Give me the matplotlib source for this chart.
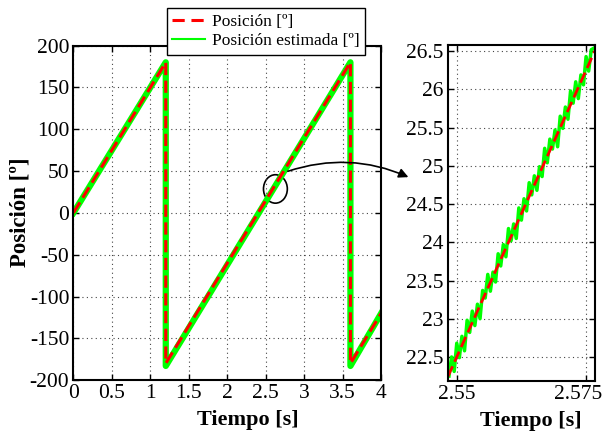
import numpy as np
import matplotlib
matplotlib.use("Agg")
import matplotlib.pyplot as plt
import matplotlib.transforms as mtransforms
from matplotlib.patches import Ellipse
from matplotlib.lines import Line2D

# full run: sawtooth vertices (s, deg)
t_pos = [0.0, 1.2, 1.2, 3.6, 3.6, 4.0]
pos = [0.0, 180.0, -180.0, 180.0, -180.0, -120.0]
t_est = [0.0, 1.2, 1.2, 3.6, 3.6, 4.0]
pos_est = [0.0, 180.0, -183.0, 180.0, -183.0, -120.0]

# zoom window
t_zoom = [2.5483, 2.5767]
pos_zoom = [22.245, 26.505]
t_zoom_est = [2.5485, 2.5490, 2.5495, 2.5500, 2.5505, 2.5510, 2.5515, 2.5520,
              2.5525, 2.5530, 2.5535, 2.5540, 2.5545, 2.5550, 2.5555, 2.5560,
              2.5565, 2.5570, 2.5575, 2.5580, 2.5585, 2.5590, 2.5595, 2.5600,
              2.5605, 2.5610, 2.5615, 2.5620, 2.5625, 2.5630, 2.5635, 2.5640,
              2.5645, 2.5650, 2.5655, 2.5660, 2.5665, 2.5670, 2.5675, 2.5680,
              2.5685, 2.5690, 2.5695, 2.5700, 2.5705, 2.5710, 2.5715, 2.5720,
              2.5725, 2.5730, 2.5735, 2.5740, 2.5745, 2.5750, 2.5755, 2.5760,
              2.5765]
pos_zoom_est = [22.25, 22.50, 22.31, 22.68, 22.49, 22.77, 22.58, 22.98,
                22.82, 23.10, 22.91, 23.19, 23.00, 23.37, 23.27, 23.58,
                23.36, 23.61, 23.48, 23.85, 23.69, 23.97, 23.81, 24.18,
                24.02, 24.24, 24.05, 24.45, 24.29, 24.57, 24.41, 24.78,
                24.62, 24.87, 24.68, 24.99, 24.86, 25.23, 25.04, 25.35,
                25.22, 25.47, 25.25, 25.65, 25.49, 25.77, 25.61, 25.98,
                25.82, 26.10, 25.88, 26.19, 26.06, 26.43, 26.24, 26.52,
                26.54]

plt.rcParams['font.family'] = 'serif'
plt.rcParams['font.serif'] = ['Liberation Serif']
plt.rcParams['axes.unicode_minus'] = False
plt.rcParams['xtick.direction'] = 'in'
plt.rcParams['ytick.direction'] = 'in'
plt.rcParams['xtick.top'] = True
plt.rcParams['ytick.right'] = True

red = '#ff0000'
green = '#00ff00'

fig = plt.figure(figsize=(6.07, 4.38), dpi=100)
ax1 = fig.add_axes([0.121, 0.132, 0.507, 0.764])
ax2 = fig.add_axes([0.738, 0.131, 0.242, 0.766])

for ax in (ax1, ax2):
    ax.grid(True, linestyle=(0, (1, 3)), color='#444444', linewidth=0.8)
    ax.tick_params(labelsize=15.5, length=4, width=1, pad=3)
    for s in ax.spines.values():
        s.set_linewidth(1.5)

ax1.plot(t_est, pos_est, color=green, lw=4.5)
ax1.plot(t_pos, pos, color=red, lw=2.2, dashes=(4, 1.8))
ax1.set_xlim(0, 4)
ax1.set_ylim(-200, 200)
ax1.set_xticks([0, 0.5, 1, 1.5, 2, 2.5, 3, 3.5, 4])
ax1.set_xticklabels(['0', '0.5', '1', '1.5', '2', '2.5', '3', '3.5', '4'])
ax1.set_yticks(range(-200, 201, 50))
ax1.set_xlabel('Tiempo [s]', fontsize=16, fontweight='bold')
ax1.set_ylabel('Posición [º]', fontsize=16.5, fontweight='bold')
ax1.xaxis.set_label_coords(0.568, -0.09)
ax1.yaxis.set_label_coords(-0.14, 0.503)

ax2.plot(t_zoom_est, pos_zoom_est, color=green, lw=2.5)
ax2.plot(t_zoom, pos_zoom, color=red, lw=2.0, dashes=(4, 1.8))
ax2.set_xlim(2.5483, 2.5767)
ax2.set_ylim(22.19, 26.58)
ax2.set_xticks([2.55, 2.575])
ax2.set_xticklabels(['2.55', '2.575'])
ax2.set_yticks([22.5, 23, 23.5, 24, 24.5, 25, 25.5, 26, 26.5])
ax2.set_yticklabels(['22.5', '23', '23.5', '24', '24.5', '25', '25.5', '26', '26.5'])
ax2.set_xlabel('Tiempo [s]', fontsize=16, fontweight='bold')
ax2.xaxis.set_label_coords(0.565, -0.09)
# last tick label sits a bit left of its tick so it fits in the figure
shift = mtransforms.ScaledTranslation(-8 / 100, 0, fig.dpi_scale_trans)
lab = ax2.get_xticklabels()[-1]
lab.set_transform(lab.get_transform() + shift)

ax1.add_patch(Ellipse((2.625, 28.6), 0.31, 34, fill=False, color='black', lw=1.2))
ax1.annotate('', xy=(0.677, 0.593), xycoords='figure fraction',
             xytext=(0.470, 0.607), textcoords='figure fraction',
             arrowprops=dict(arrowstyle='-|>', color='black', lw=1.2,
                             mutation_scale=14,
                             connectionstyle='arc3,rad=-0.2'),
             annotation_clip=False)

h_pos = Line2D([], [], color=red, lw=2.2, dashes=(4, 2.2))
h_est = Line2D([], [], color=green, lw=1.5)
leg = fig.legend([h_pos, h_est], ['Posición [º]', 'Posición estimada [º]'],
                 loc='upper left', bbox_to_anchor=(0.275, 0.981),
                 fontsize=12.5, frameon=True, fancybox=False,
                 edgecolor='black', framealpha=1, borderpad=0.3,
                 handlelength=1.9, handletextpad=0.4, labelspacing=0.2,
                 borderaxespad=0)
leg.get_frame().set_linewidth(1.0)
leg.set_zorder(10)

fig.savefig('out.png', dpi=100)
